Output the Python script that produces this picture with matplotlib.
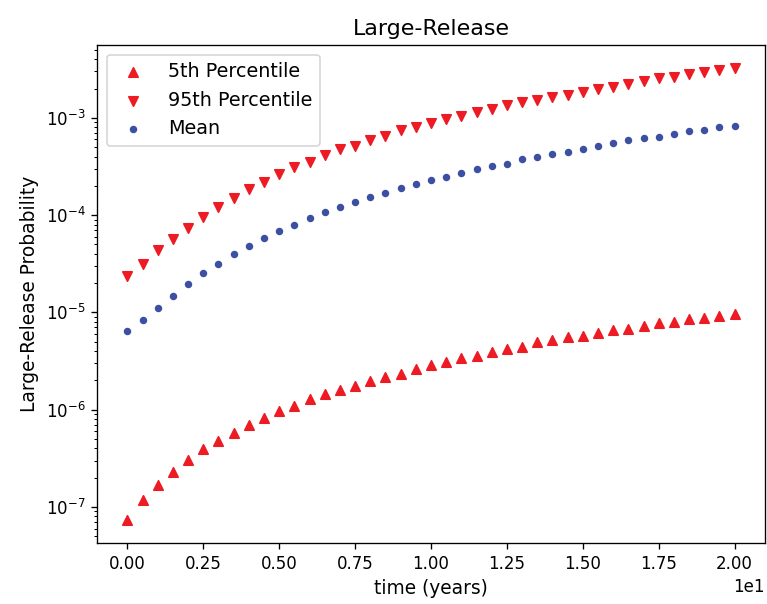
import matplotlib
matplotlib.use("Agg")
import matplotlib.pyplot as plt

time_years = [0.0, 0.5, 1.0, 1.5, 2.0, 2.5, 3.0, 3.5, 4.0, 4.5,
              5.0, 5.5, 6.0, 6.5, 7.0, 7.5, 8.0, 8.5, 9.0, 9.5,
              10.0, 10.5, 11.0, 11.5, 12.0, 12.5, 13.0, 13.5, 14.0, 14.5,
              15.0, 15.5, 16.0, 16.5, 17.0, 17.5, 18.0, 18.5, 19.0, 19.5, 20.0]

p5 = [7.29e-8, 1.17e-7, 1.67e-7, 2.29e-7, 3.06e-7, 3.93e-7, 4.79e-7, 5.78e-7, 6.98e-7, 8.24e-7,
      9.66e-7, 1.09e-6, 1.29e-6, 1.45e-6, 1.60e-6, 1.77e-6, 1.96e-6, 2.15e-6, 2.34e-6, 2.62e-6,
      2.86e-6, 3.07e-6, 3.37e-6, 3.56e-6, 3.94e-6, 4.20e-6, 4.44e-6, 4.92e-6, 5.24e-6, 5.54e-6,
      5.75e-6, 6.14e-6, 6.54e-6, 6.74e-6, 7.18e-6, 7.71e-6, 7.96e-6, 8.48e-6, 8.75e-6, 9.23e-6, 9.61e-6]

p95 = [2.34e-5, 3.11e-5, 4.43e-5, 5.74e-5, 7.37e-5, 9.57e-5, 1.22e-4, 1.49e-4, 1.85e-4, 2.18e-4,
       2.64e-4, 3.09e-4, 3.54e-4, 4.18e-4, 4.77e-4, 5.17e-4, 5.89e-4, 6.58e-4, 7.41e-4, 8.01e-4,
       8.89e-4, 9.77e-4, 1.04e-3, 1.15e-3, 1.23e-3, 1.34e-3, 1.45e-3, 1.53e-3, 1.63e-3, 1.73e-3,
       1.86e-3, 1.98e-3, 2.09e-3, 2.25e-3, 2.40e-3, 2.55e-3, 2.61e-3, 2.82e-3, 2.98e-3, 3.11e-3, 3.28e-3]

mean = [6.43e-6, 8.28e-6, 1.10e-5, 1.47e-5, 1.96e-5, 2.53e-5, 3.18e-5, 3.96e-5, 4.79e-5, 5.78e-5,
        6.82e-5, 8.00e-5, 9.42e-5, 1.07e-4, 1.21e-4, 1.38e-4, 1.52e-4, 1.67e-4, 1.90e-4, 2.09e-4,
        2.29e-4, 2.44e-4, 2.69e-4, 2.97e-4, 3.17e-4, 3.38e-4, 3.74e-4, 3.98e-4, 4.20e-4, 4.48e-4,
        4.81e-4, 5.12e-4, 5.45e-4, 5.85e-4, 6.23e-4, 6.38e-4, 6.79e-4, 7.29e-4, 7.54e-4, 8.01e-4, 8.20e-4]

red = "#ed1c24"
blue = "#3b4fa3"

fig = plt.figure(figsize=(767 / 120, 604 / 120), dpi=120)
ax = fig.add_axes([97 / 767, 1 - 543 / 604, (765 - 97) / 767, (543 - 45) / 604])

ax.scatter(time_years, p5, marker="^", s=32, color=red, label="5th Percentile")
ax.scatter(time_years, p95, marker="v", s=32, color=red, label="95th Percentile")
ax.scatter(time_years, mean, marker="o", s=12, color=blue, label="Mean")

ax.set_yscale("log")
ax.ticklabel_format(axis="x", style="sci", scilimits=(0, 0))
ax.set_title("Large-Release", fontsize=13.3)
ax.set_xlabel("time (years)", fontsize=11.2)
ax.set_ylabel("Large-Release Probability", fontsize=11.2)
ax.legend(loc="upper left", fontsize=11.5)

fig.savefig("out.png", dpi=120)
